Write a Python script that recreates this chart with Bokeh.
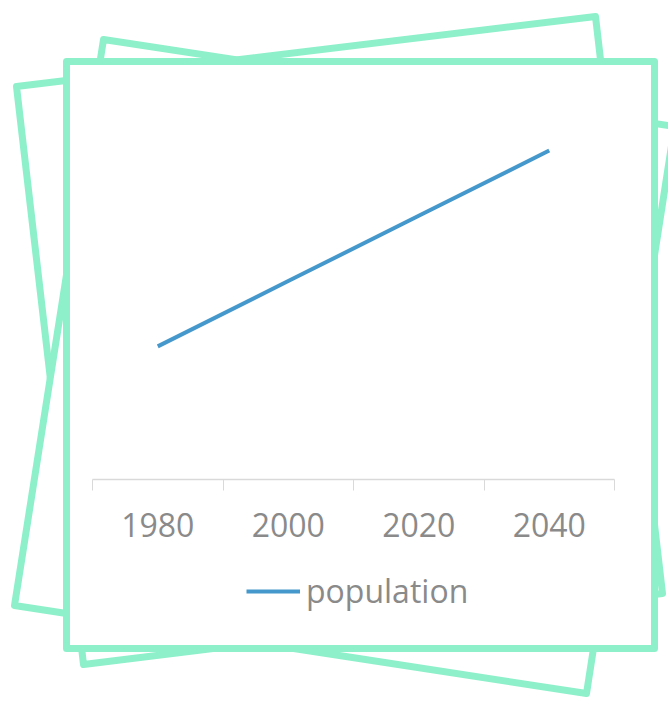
from bokeh.plotting import figure
from bokeh.models import (Range1d, FixedTicker, PolyAnnotation, Legend, LegendItem)
from bokeh.embed import file_html
from bokeh.resources import INLINE

# ---- data ----
years = ["1980", "2000", "2020", "2040"]
population = [100, 150, 200, 250]
series_name = "population"

# category positions on a numeric scale (centres of the bands)
x_pos = [i + 0.5 for i in range(len(years))]
band_edges = list(range(len(years) + 1))

W, H = 668, 701
MINT = "#8ef0cb"
LINE = "#4598cc"
TEXT = "#8a8a8a"
FONT = "Open Sans"

# plot-area borders (pixels) of the chart inside the card
B_LEFT, B_RIGHT, B_TOP, B_BOTTOM = 92, 54, 90, 222
X0, X1 = 0, len(years)
Y0, Y1 = -2, 296

# ---------- chart layer: x axis (transparent, on top) ----------
p = figure(width=W, height=H, output_backend="svg", toolbar_location=None,
           x_range=Range1d(X0, X1), y_range=Range1d(Y0, Y1),
           min_border_left=B_LEFT, min_border_right=B_RIGHT,
           min_border_top=B_TOP, min_border_bottom=B_BOTTOM)
p.background_fill_color = None
p.border_fill_color = None
p.outline_line_color = None
p.xgrid.visible = False
p.ygrid.visible = False
p.yaxis.visible = False

xa = p.xaxis[0]
xa.ticker = FixedTicker(ticks=x_pos, minor_ticks=band_edges)
xa.major_label_overrides = {x: y for x, y in zip(x_pos, years)}
xa.major_tick_out = 0
xa.major_tick_in = 0
xa.minor_tick_out = 11
xa.minor_tick_in = 0
xa.minor_tick_line_color = "#d9d9d9"
xa.axis_line_color = "#d9d9d9"
xa.axis_line_width = 1.5
xa.major_label_text_font = FONT
xa.major_label_text_font_size = "32px"
xa.major_label_text_color = TEXT
xa.major_label_standoff = 22

# ---------- card layer: tilted frames, data line, legend ----------
bg = figure(width=W, height=H, output_backend="svg", toolbar_location=None,
            x_range=Range1d(0, W), y_range=Range1d(0, H),
            x_axis_location=None, y_axis_location=None, min_border=0)
bg.background_fill_color = "white"
bg.border_fill_color = "white"
bg.outline_line_color = None
bg.grid.visible = False

# extra ranges so that the data scale covers exactly the chart's plot area
ux = (X1 - X0) / (W - B_LEFT - B_RIGHT)
uy = (Y1 - Y0) / (H - B_TOP - B_BOTTOM)
bg.extra_x_ranges = {"cat": Range1d(X0 - B_LEFT * ux, X1 + B_RIGHT * ux)}
bg.extra_y_ranges = {"pop": Range1d(Y0 - B_BOTTOM * uy, Y1 + B_TOP * uy)}

frames = [
    ([16, 595, 662, 83], [86, 16, 593, 664]),
    ([103, 674, 586, 14], [39, 126, 693, 605]),
    ([66, 654, 654, 66], [61, 61, 648, 648]),
]
for xs, ys in frames:
    bg.add_layout(PolyAnnotation(xs=xs, ys=ys, xs_units="canvas", ys_units="canvas",
                                 fill_color="white", fill_alpha=1.0,
                                 line_color=MINT, line_alpha=1.0, line_width=7,
                                 line_join="round", level="underlay"))

r = bg.line(x_pos, population, x_range_name="cat", y_range_name="pop",
            line_color=LINE, line_width=4)

legend = Legend(items=[LegendItem(label=series_name, renderers=[r])],
                orientation="horizontal", location=(246, 89),
                label_text_font=FONT, label_text_font_size="32px",
                label_text_color=TEXT, glyph_width=54, glyph_height=24,
                label_standoff=6, border_line_color=None,
                background_fill_alpha=0, margin=0, padding=0)
bg.add_layout(legend)

bg.styles = {"position": "absolute", "left": "0px", "top": "0px", "z-index": "0"}
p.styles = {"position": "absolute", "left": "0px", "top": "0px", "z-index": "1"}

open("out.html", "w").write(file_html([bg, p], INLINE))
